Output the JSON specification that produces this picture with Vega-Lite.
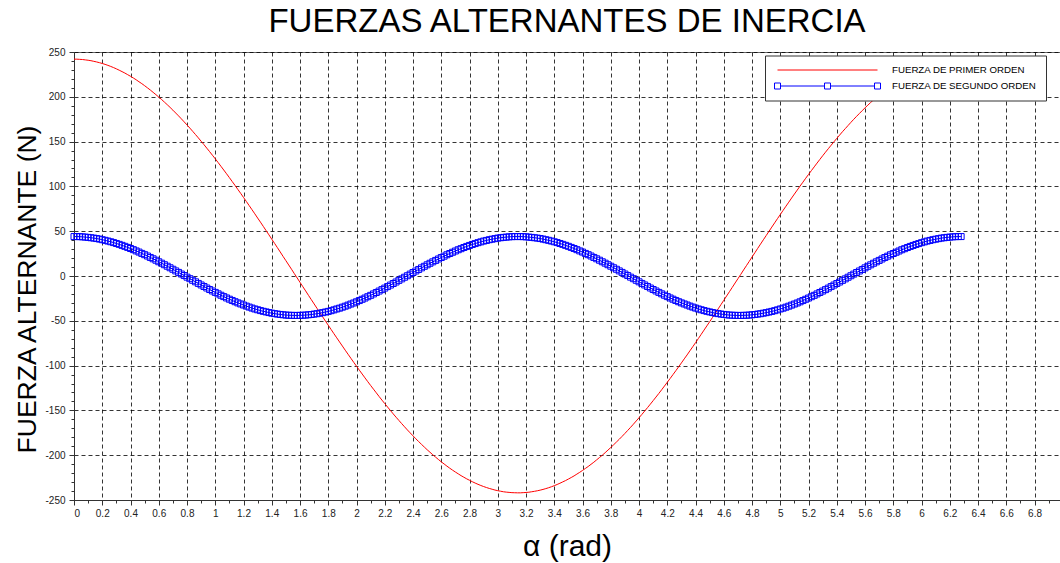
{
"$schema": "https://vega.github.io/schema/vega-lite/v6.json",
"width": 986,
"height": 448,
"autosize": {"type": "none"},
"padding": {"left": 74, "top": 52, "right": 0, "bottom": 63},
"background": "white",
"title": {"text": "FUERZAS ALTERNANTES DE INERCIA", "frame": "group", "anchor": "middle", "offset": 8, "fontSize": 33, "font": "Liberation Sans", "fontWeight": "normal", "color": "black"},
"config": {
  "view": {"stroke": "#666"},
  "axis": {"domainColor": "#333", "tickColor": "#333", "tickSize": 5, "labelFont": "Liberation Sans", "labelFontSize": 10, "labelColor": "#222", "titleFont": "Liberation Sans", "titleFontWeight": "normal", "titleColor": "black", "gridColor": "black", "gridDash": [4, 3], "gridOpacity": 1, "gridWidth": 0.8}
},
"data": {"values": [
{"alpha":0,"f1":242.0,"f2":44.0},{"alpha":0.02,"f1":242.0,"f2":44.0},{"alpha":0.04,"f1":241.8,"f2":43.9},{"alpha":0.06,"f1":241.6,"f2":43.7},{"alpha":0.08,"f1":241.2,"f2":43.4},
{"alpha":0.1,"f1":240.8,"f2":43.1},{"alpha":0.12,"f1":240.3,"f2":42.7},{"alpha":0.14,"f1":239.6,"f2":42.3},{"alpha":0.16,"f1":238.9,"f2":41.8},{"alpha":0.18,"f1":238.1,"f2":41.2},
{"alpha":0.2,"f1":237.2,"f2":40.5},{"alpha":0.22,"f1":236.2,"f2":39.8},{"alpha":0.24,"f1":235.1,"f2":39.0},{"alpha":0.26,"f1":233.9,"f2":38.2},{"alpha":0.28,"f1":232.6,"f2":37.3},
{"alpha":0.3,"f1":231.2,"f2":36.3},{"alpha":0.32,"f1":229.7,"f2":35.3},{"alpha":0.34,"f1":228.1,"f2":34.2},{"alpha":0.36,"f1":226.5,"f2":33.1},{"alpha":0.38,"f1":224.7,"f2":31.9},
{"alpha":0.4,"f1":222.9,"f2":30.7},{"alpha":0.42,"f1":221.0,"f2":29.4},{"alpha":0.44,"f1":219.0,"f2":28.0},{"alpha":0.46,"f1":216.8,"f2":26.7},{"alpha":0.48,"f1":214.7,"f2":25.2},
{"alpha":0.5,"f1":212.4,"f2":23.8},{"alpha":0.52,"f1":210.0,"f2":22.3},{"alpha":0.54,"f1":207.6,"f2":20.7},{"alpha":0.56,"f1":205.0,"f2":19.2},{"alpha":0.58,"f1":202.4,"f2":17.6},
{"alpha":0.6,"f1":199.7,"f2":15.9},{"alpha":0.62,"f1":197.0,"f2":14.3},{"alpha":0.64,"f1":194.1,"f2":12.6},{"alpha":0.66,"f1":191.2,"f2":10.9},{"alpha":0.68,"f1":188.2,"f2":9.2},
{"alpha":0.7,"f1":185.1,"f2":7.5},{"alpha":0.72,"f1":181.9,"f2":5.7},{"alpha":0.74,"f1":178.7,"f2":4.0},{"alpha":0.76,"f1":175.4,"f2":2.2},{"alpha":0.78,"f1":172.0,"f2":0.5},
{"alpha":0.8,"f1":168.6,"f2":-1.3},{"alpha":0.82,"f1":165.1,"f2":-3.0},{"alpha":0.84,"f1":161.5,"f2":-4.8},{"alpha":0.86,"f1":157.9,"f2":-6.5},{"alpha":0.88,"f1":154.2,"f2":-8.3},
{"alpha":0.9,"f1":150.4,"f2":-10.0},{"alpha":0.92,"f1":146.6,"f2":-11.7},{"alpha":0.94,"f1":142.7,"f2":-13.4},{"alpha":0.96,"f1":138.8,"f2":-15.1},{"alpha":0.98,"f1":134.8,"f2":-16.7},
{"alpha":1,"f1":130.8,"f2":-18.3},{"alpha":1.02,"f1":126.7,"f2":-19.9},{"alpha":1.04,"f1":122.5,"f2":-21.5},{"alpha":1.06,"f1":118.3,"f2":-23.0},{"alpha":1.08,"f1":114.1,"f2":-24.5},
{"alpha":1.1,"f1":109.8,"f2":-25.9},{"alpha":1.12,"f1":105.4,"f2":-27.3},{"alpha":1.14,"f1":101.1,"f2":-28.7},{"alpha":1.16,"f1":96.6,"f2":-30.0},{"alpha":1.18,"f1":92.2,"f2":-31.2},
{"alpha":1.2,"f1":87.7,"f2":-32.4},{"alpha":1.22,"f1":83.2,"f2":-33.6},{"alpha":1.24,"f1":78.6,"f2":-34.7},{"alpha":1.26,"f1":74.0,"f2":-35.8},{"alpha":1.28,"f1":69.4,"f2":-36.8},
{"alpha":1.3,"f1":64.7,"f2":-37.7},{"alpha":1.32,"f1":60.1,"f2":-38.6},{"alpha":1.34,"f1":55.4,"f2":-39.4},{"alpha":1.36,"f1":50.6,"f2":-40.1},{"alpha":1.38,"f1":45.9,"f2":-40.8},
{"alpha":1.4,"f1":41.1,"f2":-41.5},{"alpha":1.42,"f1":36.4,"f2":-42.0},{"alpha":1.44,"f1":31.6,"f2":-42.5},{"alpha":1.46,"f1":26.8,"f2":-42.9},{"alpha":1.48,"f1":21.9,"f2":-43.3},
{"alpha":1.5,"f1":17.1,"f2":-43.6},{"alpha":1.52,"f1":12.3,"f2":-43.8},{"alpha":1.54,"f1":7.5,"f2":-43.9},{"alpha":1.56,"f1":2.6,"f2":-44.0},{"alpha":1.58,"f1":-2.2,"f2":-44.0},
{"alpha":1.6,"f1":-7.1,"f2":-43.9},{"alpha":1.62,"f1":-11.9,"f2":-43.8},{"alpha":1.64,"f1":-16.7,"f2":-43.6},{"alpha":1.66,"f1":-21.6,"f2":-43.3},{"alpha":1.68,"f1":-26.4,"f2":-43.0},
{"alpha":1.7,"f1":-31.2,"f2":-42.5},{"alpha":1.72,"f1":-36.0,"f2":-42.1},{"alpha":1.74,"f1":-40.8,"f2":-41.5},{"alpha":1.76,"f1":-45.5,"f2":-40.9},{"alpha":1.78,"f1":-50.3,"f2":-40.2},
{"alpha":1.8,"f1":-55.0,"f2":-39.5},{"alpha":1.82,"f1":-59.7,"f2":-38.7},{"alpha":1.84,"f1":-64.4,"f2":-37.8},{"alpha":1.86,"f1":-69.0,"f2":-36.8},{"alpha":1.88,"f1":-73.6,"f2":-35.9},
{"alpha":1.9,"f1":-78.2,"f2":-34.8},{"alpha":1.92,"f1":-82.8,"f2":-33.7},{"alpha":1.94,"f1":-87.3,"f2":-32.5},{"alpha":1.96,"f1":-91.8,"f2":-31.3},{"alpha":1.98,"f1":-96.3,"f2":-30.1},
{"alpha":2,"f1":-100.7,"f2":-28.8},{"alpha":2.02,"f1":-105.1,"f2":-27.4},{"alpha":2.04,"f1":-109.4,"f2":-26.0},{"alpha":2.06,"f1":-113.7,"f2":-24.6},{"alpha":2.08,"f1":-118.0,"f2":-23.1},
{"alpha":2.1,"f1":-122.2,"f2":-21.6},{"alpha":2.12,"f1":-126.3,"f2":-20.0},{"alpha":2.14,"f1":-130.4,"f2":-18.4},{"alpha":2.16,"f1":-134.5,"f2":-16.8},{"alpha":2.18,"f1":-138.5,"f2":-15.2},
{"alpha":2.2,"f1":-142.4,"f2":-13.5},{"alpha":2.22,"f1":-146.3,"f2":-11.8},{"alpha":2.24,"f1":-150.1,"f2":-10.1},{"alpha":2.26,"f1":-153.9,"f2":-8.4},{"alpha":2.28,"f1":-157.6,"f2":-6.7},
{"alpha":2.3,"f1":-161.2,"f2":-4.9},{"alpha":2.32,"f1":-164.8,"f2":-3.2},{"alpha":2.34,"f1":-168.3,"f2":-1.4},{"alpha":2.36,"f1":-171.8,"f2":0.3},{"alpha":2.38,"f1":-175.1,"f2":2.1},
{"alpha":2.4,"f1":-178.4,"f2":3.9},{"alpha":2.42,"f1":-181.7,"f2":5.6},{"alpha":2.44,"f1":-184.8,"f2":7.3},{"alpha":2.46,"f1":-187.9,"f2":9.1},{"alpha":2.48,"f1":-190.9,"f2":10.8},
{"alpha":2.5,"f1":-193.9,"f2":12.5},{"alpha":2.52,"f1":-196.7,"f2":14.2},{"alpha":2.54,"f1":-199.5,"f2":15.8},{"alpha":2.56,"f1":-202.2,"f2":17.4},{"alpha":2.58,"f1":-204.8,"f2":19.0},
{"alpha":2.6,"f1":-207.4,"f2":20.6},{"alpha":2.62,"f1":-209.8,"f2":22.1},{"alpha":2.64,"f1":-212.2,"f2":23.7},{"alpha":2.66,"f1":-214.5,"f2":25.1},{"alpha":2.68,"f1":-216.7,"f2":26.5},
{"alpha":2.7,"f1":-218.8,"f2":27.9},{"alpha":2.72,"f1":-220.8,"f2":29.3},{"alpha":2.74,"f1":-222.8,"f2":30.5},{"alpha":2.76,"f1":-224.6,"f2":31.8},{"alpha":2.78,"f1":-226.4,"f2":33.0},
{"alpha":2.8,"f1":-228.0,"f2":34.1},{"alpha":2.82,"f1":-229.6,"f2":35.2},{"alpha":2.84,"f1":-231.1,"f2":36.2},{"alpha":2.86,"f1":-232.5,"f2":37.2},{"alpha":2.88,"f1":-233.8,"f2":38.1},
{"alpha":2.9,"f1":-235.0,"f2":39.0},{"alpha":2.92,"f1":-236.1,"f2":39.7},{"alpha":2.94,"f1":-237.1,"f2":40.5},{"alpha":2.96,"f1":-238.0,"f2":41.1},{"alpha":2.98,"f1":-238.9,"f2":41.7},
{"alpha":3,"f1":-239.6,"f2":42.3},{"alpha":3.02,"f1":-240.2,"f2":42.7},{"alpha":3.04,"f1":-240.8,"f2":43.1},{"alpha":3.06,"f1":-241.2,"f2":43.4},{"alpha":3.08,"f1":-241.5,"f2":43.7},
{"alpha":3.1,"f1":-241.8,"f2":43.9},{"alpha":3.12,"f1":-241.9,"f2":44.0},{"alpha":3.14,"f1":-242.0,"f2":44.0},{"alpha":3.16,"f1":-242.0,"f2":44.0},{"alpha":3.18,"f1":-241.8,"f2":43.9},
{"alpha":3.2,"f1":-241.6,"f2":43.7},{"alpha":3.22,"f1":-241.3,"f2":43.4},{"alpha":3.24,"f1":-240.8,"f2":43.1},{"alpha":3.26,"f1":-240.3,"f2":42.7},{"alpha":3.28,"f1":-239.7,"f2":42.3},
{"alpha":3.3,"f1":-239.0,"f2":41.8},{"alpha":3.32,"f1":-238.2,"f2":41.2},{"alpha":3.34,"f1":-237.3,"f2":40.5},{"alpha":3.36,"f1":-236.3,"f2":39.8},{"alpha":3.38,"f1":-235.2,"f2":39.0},
{"alpha":3.4,"f1":-234.0,"f2":38.2},{"alpha":3.42,"f1":-232.7,"f2":37.3},{"alpha":3.44,"f1":-231.3,"f2":36.3},{"alpha":3.46,"f1":-229.8,"f2":35.3},{"alpha":3.48,"f1":-228.3,"f2":34.2},
{"alpha":3.5,"f1":-226.6,"f2":33.1},{"alpha":3.52,"f1":-224.9,"f2":31.9},{"alpha":3.54,"f1":-223.1,"f2":30.7},{"alpha":3.56,"f1":-221.1,"f2":29.4},{"alpha":3.58,"f1":-219.1,"f2":28.0},
{"alpha":3.6,"f1":-217.0,"f2":26.7},{"alpha":3.62,"f1":-214.8,"f2":25.2},{"alpha":3.64,"f1":-212.6,"f2":23.8},{"alpha":3.66,"f1":-210.2,"f2":22.3},{"alpha":3.68,"f1":-207.8,"f2":20.7},
{"alpha":3.7,"f1":-205.2,"f2":19.2},{"alpha":3.72,"f1":-202.6,"f2":17.6},{"alpha":3.74,"f1":-200.0,"f2":15.9},{"alpha":3.76,"f1":-197.2,"f2":14.3},{"alpha":3.78,"f1":-194.3,"f2":12.6},
{"alpha":3.8,"f1":-191.4,"f2":10.9},{"alpha":3.82,"f1":-188.4,"f2":9.2},{"alpha":3.84,"f1":-185.3,"f2":7.5},{"alpha":3.86,"f1":-182.2,"f2":5.7},{"alpha":3.88,"f1":-179.0,"f2":4.0},
{"alpha":3.9,"f1":-175.7,"f2":2.2},{"alpha":3.92,"f1":-172.3,"f2":0.5},{"alpha":3.94,"f1":-168.9,"f2":-1.3},{"alpha":3.96,"f1":-165.4,"f2":-3.0},{"alpha":3.98,"f1":-161.8,"f2":-4.8},
{"alpha":4,"f1":-158.2,"f2":-6.5},{"alpha":4.02,"f1":-154.5,"f2":-8.3},{"alpha":4.04,"f1":-150.7,"f2":-10.0},{"alpha":4.06,"f1":-146.9,"f2":-11.7},{"alpha":4.08,"f1":-143.0,"f2":-13.4},
{"alpha":4.1,"f1":-139.1,"f2":-15.1},{"alpha":4.12,"f1":-135.1,"f2":-16.7},{"alpha":4.14,"f1":-131.1,"f2":-18.3},{"alpha":4.16,"f1":-127.0,"f2":-19.9},{"alpha":4.18,"f1":-122.8,"f2":-21.5},
{"alpha":4.2,"f1":-118.6,"f2":-23.0},{"alpha":4.22,"f1":-114.4,"f2":-24.5},{"alpha":4.24,"f1":-110.1,"f2":-25.9},{"alpha":4.26,"f1":-105.8,"f2":-27.3},{"alpha":4.28,"f1":-101.4,"f2":-28.7},
{"alpha":4.3,"f1":-97.0,"f2":-30.0},{"alpha":4.32,"f1":-92.5,"f2":-31.2},{"alpha":4.34,"f1":-88.1,"f2":-32.4},{"alpha":4.36,"f1":-83.5,"f2":-33.6},{"alpha":4.38,"f1":-79.0,"f2":-34.7},
{"alpha":4.4,"f1":-74.4,"f2":-35.8},{"alpha":4.42,"f1":-69.8,"f2":-36.8},{"alpha":4.44,"f1":-65.1,"f2":-37.7},{"alpha":4.46,"f1":-60.4,"f2":-38.6},{"alpha":4.48,"f1":-55.7,"f2":-39.4},
{"alpha":4.5,"f1":-51.0,"f2":-40.1},{"alpha":4.52,"f1":-46.3,"f2":-40.8},{"alpha":4.54,"f1":-41.5,"f2":-41.5},{"alpha":4.56,"f1":-36.7,"f2":-42.0},{"alpha":4.58,"f1":-31.9,"f2":-42.5},
{"alpha":4.6,"f1":-27.1,"f2":-42.9},{"alpha":4.62,"f1":-22.3,"f2":-43.3},{"alpha":4.64,"f1":-17.5,"f2":-43.6},{"alpha":4.66,"f1":-12.7,"f2":-43.8},{"alpha":4.68,"f1":-7.8,"f2":-43.9},
{"alpha":4.7,"f1":-3.0,"f2":-44.0},{"alpha":4.72,"f1":1.8,"f2":-44.0},{"alpha":4.74,"f1":6.7,"f2":-43.9},{"alpha":4.76,"f1":11.5,"f2":-43.8},{"alpha":4.78,"f1":16.3,"f2":-43.6},
{"alpha":4.8,"f1":21.2,"f2":-43.3},{"alpha":4.82,"f1":26.0,"f2":-43.0},{"alpha":4.84,"f1":30.8,"f2":-42.5},{"alpha":4.86,"f1":35.6,"f2":-42.1},{"alpha":4.88,"f1":40.4,"f2":-41.5},
{"alpha":4.9,"f1":45.1,"f2":-40.9},{"alpha":4.92,"f1":49.9,"f2":-40.2},{"alpha":4.94,"f1":54.6,"f2":-39.5},{"alpha":4.96,"f1":59.3,"f2":-38.7},{"alpha":4.98,"f1":64.0,"f2":-37.8},
{"alpha":5,"f1":68.6,"f2":-36.8},{"alpha":5.02,"f1":73.3,"f2":-35.9},{"alpha":5.04,"f1":77.9,"f2":-34.8},{"alpha":5.06,"f1":82.4,"f2":-33.7},{"alpha":5.08,"f1":87.0,"f2":-32.5},
{"alpha":5.1,"f1":91.5,"f2":-31.3},{"alpha":5.12,"f1":95.9,"f2":-30.1},{"alpha":5.14,"f1":100.4,"f2":-28.8},{"alpha":5.16,"f1":104.7,"f2":-27.4},{"alpha":5.18,"f1":109.1,"f2":-26.0},
{"alpha":5.2,"f1":113.4,"f2":-24.6},{"alpha":5.22,"f1":117.6,"f2":-23.1},{"alpha":5.24,"f1":121.8,"f2":-21.6},{"alpha":5.26,"f1":126.0,"f2":-20.0},{"alpha":5.28,"f1":130.1,"f2":-18.4},
{"alpha":5.3,"f1":134.2,"f2":-16.8},{"alpha":5.32,"f1":138.2,"f2":-15.2},{"alpha":5.34,"f1":142.1,"f2":-13.5},{"alpha":5.36,"f1":146.0,"f2":-11.8},{"alpha":5.38,"f1":149.8,"f2":-10.1},
{"alpha":5.4,"f1":153.6,"f2":-8.4},{"alpha":5.42,"f1":157.3,"f2":-6.7},{"alpha":5.44,"f1":161.0,"f2":-4.9},{"alpha":5.46,"f1":164.5,"f2":-3.2},{"alpha":5.48,"f1":168.0,"f2":-1.4},
{"alpha":5.5,"f1":171.5,"f2":0.3},{"alpha":5.52,"f1":174.9,"f2":2.1},{"alpha":5.54,"f1":178.2,"f2":3.9},{"alpha":5.56,"f1":181.4,"f2":5.6},{"alpha":5.58,"f1":184.6,"f2":7.3},
{"alpha":5.6,"f1":187.7,"f2":9.1},{"alpha":5.62,"f1":190.7,"f2":10.8},{"alpha":5.64,"f1":193.7,"f2":12.5},{"alpha":5.66,"f1":196.5,"f2":14.2},{"alpha":5.68,"f1":199.3,"f2":15.8},
{"alpha":5.7,"f1":202.0,"f2":17.4},{"alpha":5.72,"f1":204.6,"f2":19.0},{"alpha":5.74,"f1":207.2,"f2":20.6},{"alpha":5.76,"f1":209.6,"f2":22.1},{"alpha":5.78,"f1":212.0,"f2":23.7},
{"alpha":5.8,"f1":214.3,"f2":25.1},{"alpha":5.82,"f1":216.5,"f2":26.5},{"alpha":5.84,"f1":218.6,"f2":27.9},{"alpha":5.86,"f1":220.7,"f2":29.3},{"alpha":5.88,"f1":222.6,"f2":30.5},
{"alpha":5.9,"f1":224.5,"f2":31.8},{"alpha":5.92,"f1":226.2,"f2":33.0},{"alpha":5.94,"f1":227.9,"f2":34.1},{"alpha":5.96,"f1":229.5,"f2":35.2},{"alpha":5.98,"f1":231.0,"f2":36.2},
{"alpha":6,"f1":232.4,"f2":37.2},{"alpha":6.02,"f1":233.7,"f2":38.1},{"alpha":6.04,"f1":234.9,"f2":39.0},{"alpha":6.06,"f1":236.0,"f2":39.7},{"alpha":6.08,"f1":237.0,"f2":40.5},
{"alpha":6.1,"f1":238.0,"f2":41.1},{"alpha":6.12,"f1":238.8,"f2":41.7},{"alpha":6.14,"f1":239.5,"f2":42.3},{"alpha":6.16,"f1":240.2,"f2":42.7},{"alpha":6.18,"f1":240.7,"f2":43.1},
{"alpha":6.2,"f1":241.2,"f2":43.4},{"alpha":6.22,"f1":241.5,"f2":43.7},{"alpha":6.24,"f1":241.8,"f2":43.9},{"alpha":6.26,"f1":241.9,"f2":44.0},{"alpha":6.28,"f1":242.0,"f2":44.0}
]},
"resolve": {"axis": {"x": "independent", "y": "independent"}},
"layer": [
  {
    "mark": {"type": "line", "color": "#ff0000", "strokeWidth": 1},
    "encoding": {
      "x": {"field": "alpha", "type": "quantitative", "scale": {"domain": [0, 6.98], "nice": false, "zero": false},
        "axis": {"orient": "bottom", "title": "α (rad)", "titleFontSize": 30, "titlePadding": 13, "grid": true, "labelPadding": 3, "labelExpr": "toString(datum.value)",
          "values": [0,0.2,0.4,0.6,0.8,1,1.2,1.4,1.6,1.8,2,2.2,2.4,2.6,2.8,3,3.2,3.4,3.6,3.8,4,4.2,4.4,4.6,4.8,5,5.2,5.4,5.6,5.8,6,6.2,6.4,6.6,6.8]}},
      "y": {"field": "f1", "type": "quantitative", "scale": {"domain": [-250, 250], "nice": false},
        "axis": {"orient": "left", "title": "FUERZA ALTERNANTE (N)", "titleFontSize": 26.5, "titlePadding": 3, "titleY": 237, "grid": true, "labelPadding": 4, "labelExpr": "toString(datum.value)",
          "values": [-250,-200,-150,-100,-50,0,50,100,150,200,250]}}
    }
  },
  {
    "mark": {"type": "line", "color": "#0000ff", "strokeWidth": 1},
    "encoding": {
      "x": {"field": "alpha", "type": "quantitative", "scale": {"domain": [0, 6.98], "nice": false, "zero": false},
        "axis": {"orient": "bottom", "title": null, "labels": false, "grid": false, "domain": false, "tickSize": 3,
          "values": [0.1,0.3,0.5,0.7,0.9,1.1,1.3,1.5,1.7,1.9,2.1,2.3,2.5,2.7,2.9,3.1,3.3,3.5,3.7,3.9,4.1,4.3,4.5,4.7,4.9,5.1,5.3,5.5,5.7,5.9,6.1,6.3,6.5,6.7,6.9]}},
      "y": {"field": "f2", "type": "quantitative", "scale": {"domain": [-250, 250], "nice": false},
        "axis": {"orient": "left", "title": null, "labels": false, "grid": false, "domain": false, "tickSize": 3,
          "values": [-240,-230,-220,-210,-190,-180,-170,-160,-140,-130,-120,-110,-90,-80,-70,-60,-40,-30,-20,-10,10,20,30,40,60,70,80,90,110,120,130,140,160,170,180,190,210,220,230,240]}}
    }
  },
  {
    "mark": {"type": "point", "shape": "square", "size": 36, "filled": false, "stroke": "#0000ff", "strokeWidth": 1, "opacity": 1},
    "encoding": {
      "x": {"field": "alpha", "type": "quantitative", "scale": {"domain": [0, 6.98], "nice": false, "zero": false}, "axis": null},
      "y": {"field": "f2", "type": "quantitative", "scale": {"domain": [-250, 250], "nice": false}, "axis": null}
    }
  },
  {
    "data": {"values": [{"serie": "FUERZA DE PRIMER ORDEN"}, {"serie": "FUERZA DE SEGUNDO ORDEN"}]},
    "transform": [{"filter": "datum.serie == 'ninguna'"}],
    "mark": {"type": "point", "filled": false, "opacity": 1, "strokeWidth": 1},
    "encoding": {
      "color": {"field": "serie", "type": "nominal",
        "scale": {"domain": ["FUERZA DE PRIMER ORDEN", "FUERZA DE SEGUNDO ORDEN"], "range": ["#ff0000", "#0000ff"]},
        "legend": {"title": null, "orient": "none", "legendX": 691, "legendY": 3.5, "padding": 9, "fillColor": "white", "strokeColor": "#333", "symbolSize": 100, "symbolStrokeWidth": 1, "symbolOffset": 48, "labelOffset": 59, "rowPadding": 5, "labelFont": "Liberation Sans", "labelFontSize": 9.7, "labelColor": "black", "labelLimit": 300,
          "encode": {"symbols": {"update": {"stroke": {"signal": "datum.value === 'FUERZA DE PRIMER ORDEN' ? '#ff0000' : '#0000ff'"}, "fill": {"value": "transparent"}, "opacity": {"value": 1}}}}}},
      "shape": {"field": "serie", "type": "nominal",
        "scale": {"domain": ["FUERZA DE PRIMER ORDEN", "FUERZA DE SEGUNDO ORDEN"], "range": ["M-10,0H10", "M-9.4,0H-0.6M0.6,0H9.4M-10.6,-0.6H-9.4V0.6H-10.6ZM-0.6,-0.6H0.6V0.6H-0.6ZM9.4,-0.6H10.6V0.6H9.4Z"]},
        "legend": {"title": null, "orient": "none", "legendX": 691, "legendY": 3.5, "padding": 9, "fillColor": "white", "strokeColor": "#333", "symbolSize": 100, "symbolStrokeWidth": 1, "symbolOffset": 48, "labelOffset": 59, "rowPadding": 5, "labelFont": "Liberation Sans", "labelFontSize": 9.7, "labelColor": "black", "labelLimit": 300,
          "encode": {"symbols": {"update": {"stroke": {"signal": "datum.value === 'FUERZA DE PRIMER ORDEN' ? '#ff0000' : '#0000ff'"}, "fill": {"value": "transparent"}, "opacity": {"value": 1}}}}}}
    }
  }
]
}
